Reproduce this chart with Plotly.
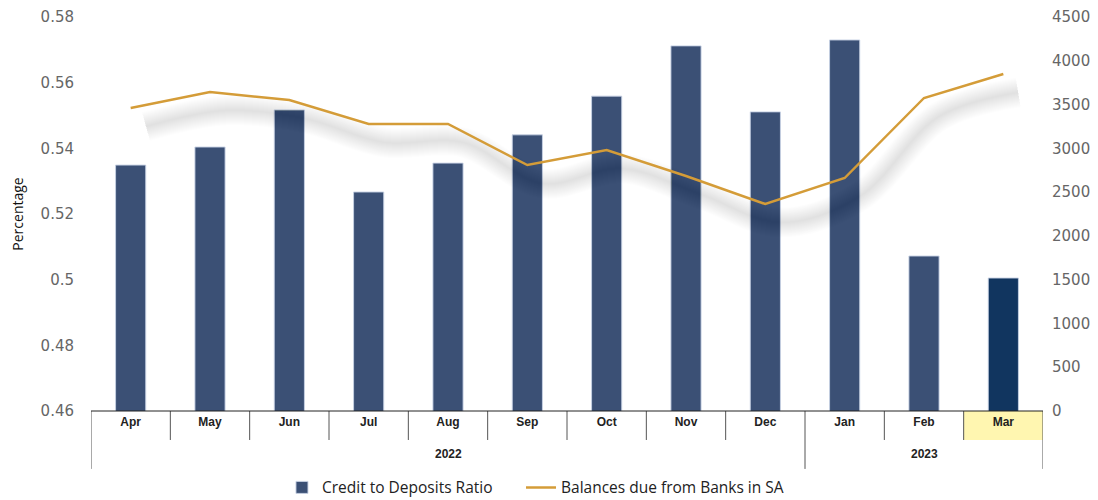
import plotly.graph_objects as go

months = ["Apr", "May", "Jun", "Jul", "Aug", "Sep", "Oct", "Nov", "Dec", "Jan", "Feb", "Mar"]
years = ["2022", "2023"]
year_counts = [9, 3]
credit_ratio = [0.5349, 0.5404, 0.5517, 0.5267, 0.5355, 0.5441, 0.5559, 0.5712, 0.5511, 0.5730, 0.5072, 0.5005]
balances = [3460, 3643, 3552, 3278, 3278, 2809, 2981, 2684, 2364, 2661, 3575, 3849]

BAR = "#3b5075"
BAR_LAST = "#11355f"
LINE = "#d49c38"

x = list(range(len(months)))
fig = go.Figure()

fig.add_trace(go.Bar(
    x=x, y=credit_ratio, name="Credit to Deposits Ratio",
    marker=dict(color=[BAR] * (len(months) - 1) + [BAR_LAST],
                line=dict(color="rgba(200,210,228,0.9)", width=1)),
    width=0.38, yaxis="y", legend="legend",
))

# soft drop shadow under the line (offset copy of the same data)
shadow_dx, shadow_dy = 0.19, 210
for w in range(30, 1, -2):
    fig.add_trace(go.Scatter(
        x=[v + shadow_dx for v in x], y=[b - shadow_dy for b in balances],
        mode="lines", line=dict(color="rgba(0,0,0,0.0095)", width=w, shape="spline", smoothing=1.0),
        yaxis="y2", showlegend=False, hoverinfo="skip",
    ))

fig.add_trace(go.Scatter(
    x=x, y=balances, name="Balances due from Banks in SA",
    mode="lines", line=dict(color=LINE, width=2.5), yaxis="y2", legend="legend2",
))

boundaries = [-0.5]
acc = -0.5
for c in year_counts:
    acc += c
    boundaries.append(acc)

ROW1 = -0.0736
ROW2 = -0.147
shapes = []
shapes.append(dict(type="rect", xref="x", yref="paper", x0=10.5, x1=11.5, y0=ROW1, y1=0,
                   fillcolor="#fff6b0", line=dict(width=0), layer="below"))
for i in range(len(months) + 1):
    b = i - 0.5
    y0 = ROW2 if b in boundaries else ROW1
    shapes.append(dict(type="line", xref="x", yref="paper", x0=b, x1=b, y0=y0, y1=0,
                       line=dict(color="#555555", width=1)))
shapes.append(dict(type="line", xref="x", yref="paper", x0=-0.5, x1=11.5, y0=0, y1=0,
                   line=dict(color="#222222", width=1)))

LABEL_FONT = dict(family="Liberation Sans Narrow, Arial Narrow, Liberation Sans, sans-serif", size=12, color="#222")
annotations = []
start = -0.5
for yr, c in zip(years, year_counts):
    annotations.append(dict(x=start + c / 2, y=-0.108, xref="x", yref="paper", text=f"<b>{yr}</b>",
                            showarrow=False, yanchor="middle", font=LABEL_FONT))
    start += c

LEGEND_FONT = dict(family="Open Sans, sans-serif", size=15.5, color="#222")
fig.update_layout(
    width=1090, height=492,
    margin=dict(l=83, r=55, t=9, b=89, autoexpand=False),
    paper_bgcolor="white", plot_bgcolor="white",
    showlegend=True,
    legend=dict(orientation="h", x=0.2006, xanchor="left", y=-0.195, yanchor="middle", font=LEGEND_FONT),
    legend2=dict(orientation="h", x=0.4517, xanchor="left", y=-0.195, yanchor="middle", font=LEGEND_FONT),
    xaxis=dict(range=[-0.5, 11.5], tickmode="array", tickvals=x,
               ticktext=[f"<b>{m}</b>" for m in months], ticks="", showgrid=False, zeroline=False,
               showline=False, tickangle=0, automargin=False, ticklabelstandoff=2,
               tickfont=LABEL_FONT),
    yaxis=dict(range=[0.46, 0.58], tickvals=[0.46, 0.48, 0.5, 0.52, 0.54, 0.56, 0.58],
               ticktext=["0.46", "0.48", "0.5", "0.52", "0.54", "0.56", "0.58"],
               showgrid=False, zeroline=False, showline=False, ticks="", ticklabelstandoff=16,
               automargin=False,
               tickfont=dict(family="DejaVu Sans, sans-serif", size=15, color="#666"),
               title=dict(text="Percentage", font=dict(family="Open Sans, sans-serif", size=14, color="#111"), standoff=14)),
    yaxis2=dict(range=[0, 4500], dtick=500, overlaying="y", side="right", showgrid=False, zeroline=False,
                showline=False, ticks="", ticklabelstandoff=8, automargin=False,
                tickfont=dict(family="DejaVu Sans, sans-serif", size=15, color="#666")),
    shapes=shapes, annotations=annotations, bargap=0.6,
)

fig.write_html("out.html")
